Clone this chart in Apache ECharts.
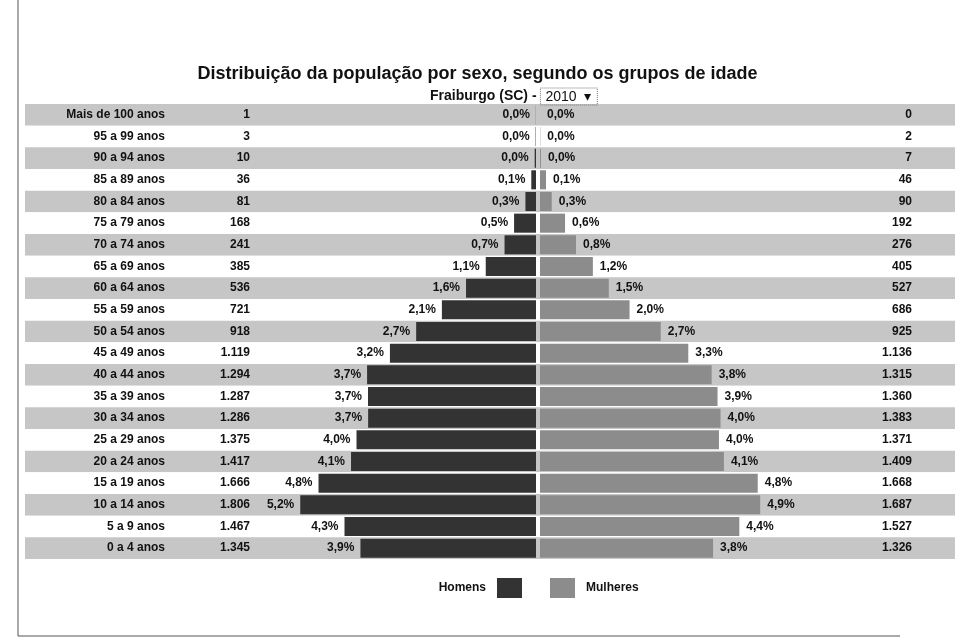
<!DOCTYPE html>
<html>
<head>
<meta charset="utf-8">
<script src="https://cdn.jsdelivr.net/npm/echarts@6/dist/echarts.min.js"></script>
<style>
  html, body { margin: 0; padding: 0; background: #fff; }
  #main { width: 955px; height: 643px; }
</style>
</head>
<body>
<div id="main"></div>
<script>
// faixas etárias, de cima para baixo
var idades = ['Mais de 100 anos', '95 a 99 anos', '90 a 94 anos', '85 a 89 anos', '80 a 84 anos',
  '75 a 79 anos', '70 a 74 anos', '65 a 69 anos', '60 a 64 anos', '55 a 59 anos', '50 a 54 anos',
  '45 a 49 anos', '40 a 44 anos', '35 a 39 anos', '30 a 34 anos', '25 a 29 anos', '20 a 24 anos',
  '15 a 19 anos', '10 a 14 anos', '5 a 9 anos', '0 a 4 anos'];
var homens = [1, 3, 10, 36, 81, 168, 241, 385, 536, 721, 918, 1119, 1294, 1287, 1286, 1375, 1417, 1666, 1806, 1467, 1345];
var mulheres = [0, 2, 7, 46, 90, 192, 276, 405, 527, 686, 925, 1136, 1315, 1360, 1383, 1371, 1409, 1668, 1687, 1527, 1326];
var pctHomens = ['0,0%', '0,0%', '0,0%', '0,1%', '0,3%', '0,5%', '0,7%', '1,1%', '1,6%', '2,1%', '2,7%',
  '3,2%', '3,7%', '3,7%', '3,7%', '4,0%', '4,1%', '4,8%', '5,2%', '4,3%', '3,9%'];
var pctMulheres = ['0,0%', '0,0%', '0,0%', '0,1%', '0,3%', '0,6%', '0,8%', '1,2%', '1,5%', '2,0%', '2,7%',
  '3,3%', '3,8%', '3,9%', '4,0%', '4,0%', '4,1%', '4,8%', '4,9%', '4,4%', '3,8%'];

function fmt(n) {
  return String(n).replace(/\B(?=(\d{3})+(?!\d))/g, '.');
}

var font = 'Liberation Sans, Arial, sans-serif';
var lbl = { fontFamily: font, fontWeight: 'bold', fontSize: 12, color: '#111' };
var top0 = 104, alt = 455, escala = 2145;

var myChart = echarts.init(document.getElementById('main'));
var option = {
  animation: false,
  title: [{
    text: 'Distribuição da população por sexo, segundo os grupos de idade',
    left: 'center',
    top: 60,
    textStyle: { fontFamily: font, fontWeight: 'bold', fontSize: 18, color: '#111' }
  }, {
    text: '{a|Fraiburgo (SC) - }{b|2010  ▾}',
    left: 425,
    top: 83,
    textStyle: {
      rich: {
        a: { fontFamily: font, fontWeight: 'bold', fontSize: 14, color: '#111' },
        b: { fontFamily: font, fontWeight: 'normal', fontSize: 14, color: '#111', borderColor: '#777',
             borderWidth: 1, borderType: 'dotted', padding: [2, 6, 1, 5] }
      }
    }
  }],
  legend: [
    { data: ['Homens'], right: 428, top: 573, align: 'right', icon: 'rect', itemWidth: 25, itemHeight: 20,
      textStyle: Object.assign({ padding: [0, 6, 0, 0] }, lbl) },
    { data: ['Mulheres'], left: 545, top: 573, icon: 'rect', itemWidth: 25, itemHeight: 20,
      textStyle: Object.assign({ padding: [0, 0, 0, 6] }, lbl) }
  ],
  grid: [
    { left: 25, right: 0, top: top0, height: alt },
    { left: 256, width: 280, top: top0, height: alt },
    { left: 540, width: 280, top: top0, height: alt }
  ],
  xAxis: [
    { gridIndex: 0, type: 'value', show: false },
    { gridIndex: 1, type: 'value', min: 0, max: escala, inverse: true, show: false },
    { gridIndex: 2, type: 'value', min: 0, max: escala, show: false }
  ],
  yAxis: [
    { gridIndex: 0, type: 'category', data: idades, inverse: true,
      axisLine: { show: false }, axisTick: { show: false }, axisLabel: { show: false },
      splitArea: { show: true, areaStyle: { color: ['#c6c6c6', '#ffffff'] } } },
    { gridIndex: 1, type: 'category', data: idades, inverse: true,
      axisLine: { show: false }, axisTick: { show: false },
      axisLabel: Object.assign({ margin: 91, align: 'right' }, lbl) },
    { gridIndex: 1, type: 'category', data: homens.map(fmt), inverse: true, position: 'left',
      axisLine: { show: false }, axisTick: { show: false },
      axisLabel: Object.assign({ margin: 6, align: 'right' }, lbl) },
    { gridIndex: 2, type: 'category', data: mulheres.map(fmt), inverse: true, position: 'right',
      axisLine: { show: false }, axisTick: { show: false },
      axisLabel: Object.assign({ margin: 92, align: 'right' }, lbl) }
  ],
  series: [
    { name: 'Homens', type: 'bar', xAxisIndex: 1, yAxisIndex: 1, data: homens,
      barCategoryGap: '12%', itemStyle: { color: '#333333' },
      label: Object.assign({ show: true, position: 'left', distance: 6,
        formatter: function (p) { return pctHomens[p.dataIndex]; } }, lbl) },
    { name: 'Mulheres', type: 'bar', xAxisIndex: 2, yAxisIndex: 3, data: mulheres,
      barCategoryGap: '12%', itemStyle: { color: '#8c8c8c' },
      label: Object.assign({ show: true, position: 'right', distance: 7,
        formatter: function (p) { return pctMulheres[p.dataIndex]; } }, lbl) }
  ],
  graphic: [
    { type: 'line', shape: { x1: 18, y1: 0, x2: 18, y2: 636 }, style: { stroke: '#555', lineWidth: 1 } },
    { type: 'line', shape: { x1: 18, y1: 636, x2: 900, y2: 636 }, style: { stroke: '#555', lineWidth: 1 } }
  ]
};
myChart.setOption(option);
</script>
</body>
</html>
